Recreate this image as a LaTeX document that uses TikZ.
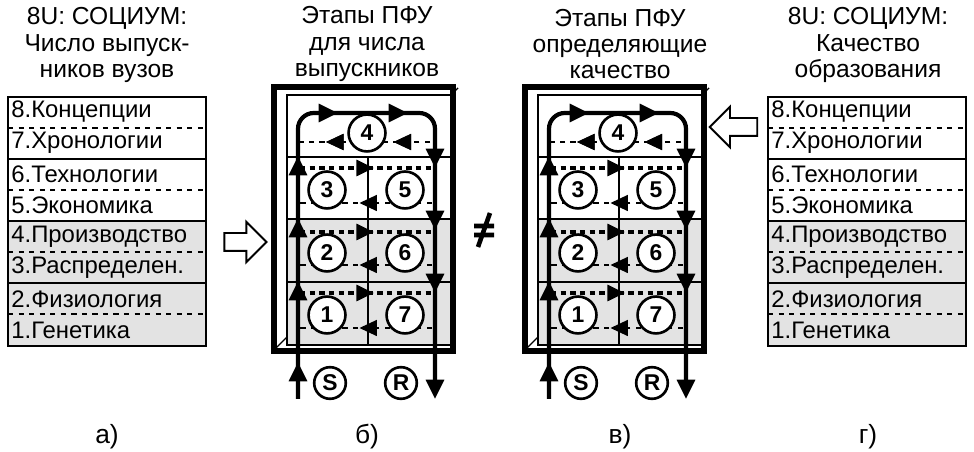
\documentclass[tikz,border=0pt]{standalone}
\usepackage{fontspec}
\setmainfont{Liberation Sans}
\usetikzlibrary{arrows.meta,decorations.markings,shapes.arrows}
\begin{document}
\begin{tikzpicture}[x=0.02cm,y=-0.02cm,
 tbl/.style={anchor=west,font=\fontsize{13.6pt}{14pt}\selectfont,inner sep=0pt},
 ttl/.style={align=center,font=\fontsize{14pt}{15pt}\selectfont},
 circ/.style={circle,draw,line width=1.5pt,fill=white,minimum size=21pt,inner sep=0pt,font=\bfseries\fontsize{13pt}{13pt}\selectfont},
 thk/.style={line width=2.4pt},
 tipa/.style={-{Triangle[length=11pt,width=10pt]}},
 mid/.style={postaction={decorate},decoration={markings,mark=at position #1 with {\arrow{Triangle[length=10pt,width=9pt]}}}}]
\useasboundingbox (0,0) rectangle (974,452);
\newcommand\soctable[2]{%
 \begin{scope}[shift={(#1,0)}]
 \fill[gray!22] (0,221) rectangle (198,346);
 \draw[line width=1pt] (0,97) rectangle (198,346);
 \foreach \y in {159,221,283} \draw[line width=1pt] (0,\y)--(198,\y);
 \foreach \y in {128,190,252,314} \draw[dashed,line width=1pt] (0,\y)--(198,\y);
 \node[tbl] (#2a) at (3,112) {8.Концепции};
 \node[tbl] (#2b) at (3,143) {7.Хронологии};
 \node[tbl] (#2c) at (3,174) {6.Технологии};
 \node[tbl] (#2d) at (3,205) {5.Экономика};
 \node[tbl] (#2e) at (3,237) {4.Производство};
 \node[tbl] (#2f) at (3,268) {3.Распределен.};
 \node[tbl] (#2g) at (3,299) {2.Физиология};
 \node[tbl] (#2h) at (3,330) {1.Генетика};
 \end{scope}}
\soctable{8}{L}
\soctable{768}{R}
\node[ttl] (t1) at (107,45) {8U: СОЦИУМ:\\Число выпуск-\\ников вузов};
\node[ttl] (t4) at (868,45) {8U: СОЦИУМ:\\Качество\\образования};
\node[ttl] (t2) at (367,44) {Этапы ПФУ\\для числа\\выпускников};
\node[ttl] (t3) at (620,44) {Этапы ПФУ\\определяющие\\качество};
\foreach \x/\l/\n in {107/а)/la,367/б)/lb,620/в)/lc,868/г)/ld} \node[ttl,font=\fontsize{15pt}{15pt}\selectfont] (\n) at (\x,437) {\l};
\node[single arrow,draw,line width=1.1pt,minimum height=24pt,minimum width=23pt,single arrow head extend=4pt,inner sep=0pt] (ha) at (241,242) {\phantom{x}};
\node[single arrow,draw,line width=1.1pt,minimum height=27pt,minimum width=23pt,single arrow head extend=4pt,inner sep=0pt,shape border rotate=180] (hb) at (738,127) {\phantom{x}};
\coordinate (ne) at (484,230);
\draw[line width=2.6pt] ([shift={(-10,-4)}]ne)--([shift={(10,-4)}]ne) ([shift={(-10,5)}]ne)--([shift={(10,5)}]ne) ([shift={(6,-17)}]ne)--([shift={(-6,17)}]ne);
\newcommand\panelfu[2]{%
 \begin{scope}[shift={(#1,0)}]
 \fill[gray!22] (287,219) rectangle (451,345);
 \draw[line width=0.9pt] (287,95) rectangle (451,345);
 \draw[line width=0.8pt] (274,350)--(287,337) (451,95)--(458,88);
 \draw[line width=3pt] (274,87) rectangle (453,351);
 \foreach \y in {157,219,282} \draw[line width=0.8pt] (287,\y)--(451,\y);
 \draw[line width=0.8pt] (368,157)--(368,345);
 \draw[dashed,line width=1.3pt,mid=0.28,mid=0.8] (430,142)--(300,142);
 \foreach \y in {168,232,293} \draw[dash pattern=on 3pt off 2.5pt,line width=2pt,mid=0.56] (300,\y)--(432,\y);
 \foreach \y in {203,265,328} \draw[dashed,line width=1.3pt,mid=0.55] (432,\y)--(300,\y);
 \node[circ] (#2n4) at (367,133) {4};
 \node[circ] (#2n3) at (327,190) {3};
 \node[circ] (#2n5) at (405,190) {5};
 \node[circ] (#2n2) at (327,253) {2};
 \node[circ] (#2n6) at (405,253) {6};
 \node[circ] (#2n1) at (327,315) {1};
 \node[circ] (#2n7) at (405,315) {7};
 \node[circ,minimum size=18pt] (#2S) at (330,383) {S};
 \node[circ,minimum size=18pt] (#2R) at (401,383) {R};
 \coordinate (#2a) at (298,399);
 \coordinate (#2b) at (435,399);
 \draw[thk,rounded corners=9pt,tipa] (#2a)--(298,113)--(435,113)--(#2b);
 \foreach \y in {372,166,228,291} \draw[thk,tipa] (298,\y+2)--(298,\y-10);
 \foreach \x in {330,400} \draw[thk,tipa] (\x-4,113)--(\x+8,113);
 \foreach \y in {158,220,283} \draw[thk,tipa] (435,\y-2)--(435,\y+10);
 \end{scope}}
\panelfu{0}{B}
\panelfu{251}{C}
\end{tikzpicture}
\end{document}
